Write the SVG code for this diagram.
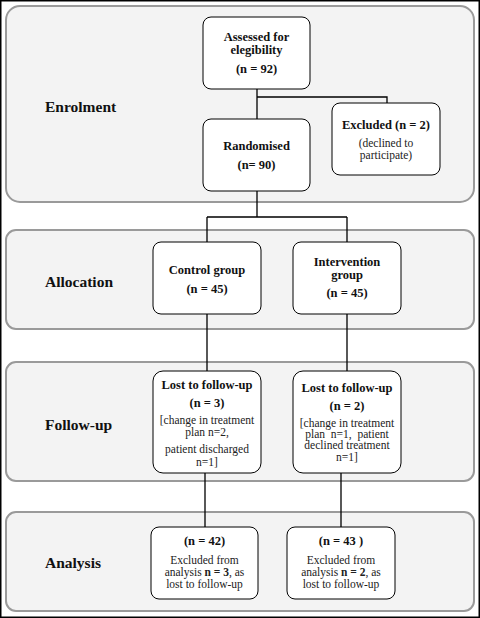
<svg xmlns="http://www.w3.org/2000/svg" width="480" height="618" viewBox="0 0 480 618">
<style>
.panel{fill:#f3f3f3;stroke:#9a9a9a;stroke-width:2}
.node{fill:#fff;stroke:#000;stroke-width:1}
.lbl{font-family:"Liberation Serif",serif;font-size:15.5px;font-weight:bold;fill:#111}
.b{font-family:"Liberation Serif",serif;font-size:12.5px;font-weight:bold;fill:#111;text-anchor:middle}
.r{font-family:"Liberation Serif",serif;font-size:11.5px;fill:#222;text-anchor:middle}
.conn{fill:none;stroke:#000;stroke-width:1.3}
</style>
<rect x="0.75" y="0.75" width="478.5" height="616.5" fill="#fff" stroke="#000" stroke-width="1.5"/>
<g id="panels">
<rect class="panel" x="6" y="6" width="468" height="196" rx="14"/>
<rect class="panel" x="6" y="230" width="468" height="99" rx="10"/>
<rect class="panel" x="6" y="362" width="468" height="119" rx="10"/>
<rect class="panel" x="6" y="512" width="468" height="99" rx="10"/>
<text class="lbl" x="45" y="112">Enrolment</text>
<text class="lbl" x="45" y="287">Allocation</text>
<text class="lbl" x="45" y="430">Follow-up</text>
<text class="lbl" x="45" y="568">Analysis</text>
</g>
<g id="connectors">
<path class="conn" d="M257 89V119M257 97H387V103"/>
<path class="conn" d="M257 191V217M207 217H347M207 217V242M347 217V242"/>
<path class="conn" d="M207 314V371M347 314V371"/>
<path class="conn" d="M205 473V527M341 473V527"/>
</g>
<g id="assessed">
<rect class="node" x="203" y="17" width="107" height="72" rx="8"/>
<text class="b" x="256.5" y="41">Assessed for</text>
<text class="b" x="256.5" y="54">elegibility</text>
<text class="b" x="256.5" y="73">(n = 92)</text>
</g>
<g id="randomised">
<rect class="node" x="203" y="119" width="107" height="72" rx="8"/>
<text class="b" x="256.5" y="150">Randomised</text>
<text class="b" x="256.5" y="169">(n= 90)</text>
</g>
<g id="excluded">
<rect class="node" x="332" y="103" width="108" height="72" rx="8"/>
<text class="b" x="386" y="129">Excluded (n = 2)</text>
<text class="r" x="386" y="147">(declined to</text>
<text class="r" x="386" y="159">participate)</text>
</g>
<g id="control">
<rect class="node" x="153" y="242" width="108" height="72" rx="8"/>
<text class="b" x="207" y="274">Control group</text>
<text class="b" x="207" y="293">(n = 45)</text>
</g>
<g id="intervention">
<rect class="node" x="293" y="242" width="108" height="72" rx="8"/>
<text class="b" x="347" y="266">Intervention</text>
<text class="b" x="347" y="279">group</text>
<text class="b" x="347" y="297">(n = 45)</text>
</g>
<g id="lost1">
<rect class="node" x="153" y="371" width="108" height="102" rx="10"/>
<text class="b" x="207" y="389">Lost to follow-up</text>
<text class="b" x="207" y="407">(n = 3)</text>
<text class="r" x="207" y="424">[change in treatment</text>
<text class="r" x="207" y="436">plan n=2,</text>
<text class="r" x="207" y="453">patient discharged</text>
<text class="r" x="207" y="466">n=1]</text>
</g>
<g id="lost2">
<rect class="node" x="293" y="371" width="108" height="102" rx="10"/>
<text class="b" x="347" y="392">Lost to follow-up</text>
<text class="b" x="347" y="410">(n = 2)</text>
<text class="r" x="347" y="427">[change in treatment</text>
<text class="r" x="347" y="438" xml:space="preserve">plan  n=1,  patient</text>
<text class="r" x="347" y="449">declined treatment</text>
<text class="r" x="347" y="461">n=1]</text>
</g>
<g id="analysis1">
<rect class="node" x="151" y="527" width="107" height="72" rx="8"/>
<text class="b" x="204.5" y="545">(n = 42)</text>
<text class="r" x="204.5" y="564">Excluded from</text>
<text class="r" x="204.5" y="576">analysis <tspan font-weight="bold">n = 3</tspan>, as</text>
<text class="r" x="204.5" y="588">lost to follow-up</text>
</g>
<g id="analysis2">
<rect class="node" x="287" y="527" width="108" height="72" rx="8"/>
<text class="b" x="341" y="545">(n = 43 )</text>
<text class="r" x="341" y="564">Excluded from</text>
<text class="r" x="341" y="576">analysis <tspan font-weight="bold">n = 2</tspan>, as</text>
<text class="r" x="341" y="588">lost to follow-up</text>
</g>
</svg>
